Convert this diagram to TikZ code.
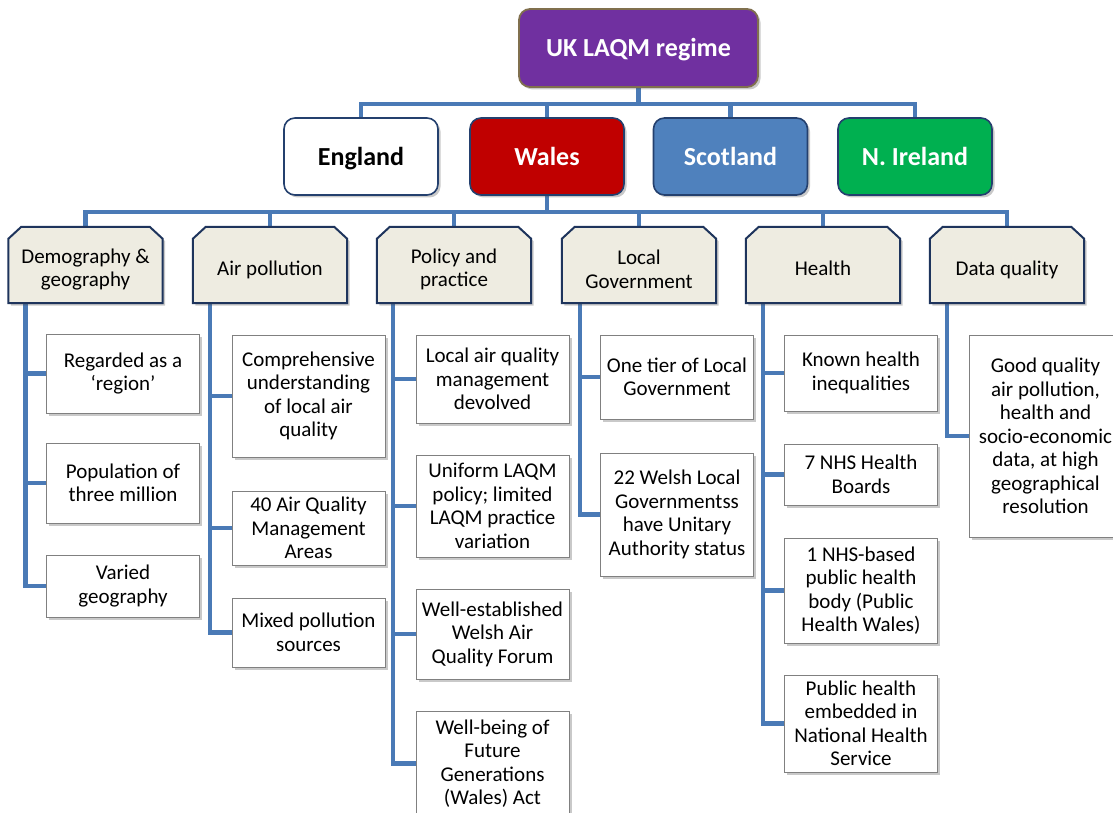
\documentclass[tikz,border=0pt]{standalone}
\usepackage{fontspec}
\setmainfont{Carlito}
\usetikzlibrary{shadows}
\definecolor{connblue}{RGB}{74,122,182}
\definecolor{topfill}{RGB}{112,48,160}
\definecolor{topedge}{RGB}{128,112,78}
\definecolor{boxedge}{RGB}{36,64,110}
\definecolor{walesred}{RGB}{192,0,0}
\definecolor{scotblue}{RGB}{79,129,189}
\definecolor{nigreen}{RGB}{0,176,80}
\definecolor{catfill}{RGB}{238,236,225}
\definecolor{catedge}{RGB}{30,52,92}
\definecolor{leafedge}{RGB}{128,128,128}
\pgfdeclarelayer{lines}
\pgfdeclarelayer{shapes}
\pgfsetlayers{lines,shapes,main}
\tikzset{
  softshadow/.style={drop shadow={opacity=0.3, shadow xshift=2.5pt, shadow yshift=-2.5pt, fill=black!70}},
  conn/.style={draw=connblue, line width=4.5pt, line join=miter},
  topbox/.style={rectangle, rounded corners=11pt, fill=topfill, draw=topedge, line width=1.8pt,
    minimum width=239pt, minimum height=78pt, text=white, inner sep=0pt,
    text height=20pt, text depth=2pt,
    font=\fontsize{26}{30}\selectfont\bfseries, softshadow},
  country/.style={rectangle, rounded corners=11pt, draw=boxedge, line width=1.6pt,
    minimum width=154pt, minimum height=77pt, inner sep=0pt,
    text height=20pt, text depth=2pt,
    font=\fontsize{26}{30}\selectfont\bfseries, softshadow},
  catnode/.style={rectangle, minimum width=154pt, minimum height=76pt, inner sep=0pt},
  cattext/.style={inner sep=0pt, align=center, yshift=-4.5pt, font=\fontsize{21}{23.5}\selectfont},
  catshape/.style={fill=catfill, draw=catedge, line width=2pt, softshadow},
  leaf/.style={rectangle, fill=white, draw=leafedge, line width=0.8pt, minimum width=153pt,
    inner sep=0pt, align=center, font=\fontsize{21}{23.5}\selectfont, softshadow}
}
\begin{document}
\begin{tikzpicture}[x=1pt,y=-1pt]
\useasboundingbox (0,0) rectangle (1113,813);

% root and the four nations
\node[topbox] (root) at (638.5,48) {UK LAQM regime};
\node[country, fill=white, text=black] (eng) at (361,156.5) {England};
\node[country, fill=walesred, text=white] (wal) at (547,156.5) {Wales};
\node[country, fill=scotblue, text=white] (sco) at (730.5,156.5) {Scotland};
\node[country, fill=nigreen, text=white] (nir) at (915,156.5) {N. Ireland};

% themes for Wales
\node[catnode, label={[cattext]center:Demography \&\\geography}] (cDem) at (85.5,265) {};
\node[catnode, label={[cattext]center:Air pollution}] (cAir) at (270,265) {};
\node[catnode, label={[cattext]center:Policy and\\practice}] (cPol) at (454,265) {};
\node[catnode, label={[cattext]center:Local\\Government}] (cGov) at (639,265) {};
\node[catnode, label={[cattext, yshift=1pt]center:Health}] (cHea) at (823,265) {};
\node[catnode, label={[cattext]center:Data quality}] (cDat) at (1007,265) {};

% Demography & geography
\node[leaf, minimum height=79pt] (d1) at (123,373.5) {Regarded as a\\‘region’};
\node[leaf, minimum height=80pt] (d2) at (123,483) {Population of\\three million};
\node[leaf, minimum height=62pt] (d3) at (123,586) {Varied\\geography};

% Air pollution
\node[leaf, minimum height=122pt] (a1) at (308.5,396) {Comprehensive\\understanding\\of local air\\quality};
\node[leaf, minimum height=74pt] (a2) at (308.5,528) {40 Air Quality\\Management\\Areas};
\node[leaf, minimum height=69pt] (a3) at (308.5,632.5) {Mixed pollution\\sources};

% Policy and practice
\node[leaf, minimum height=88pt] (p1) at (492.5,379) {Local air quality\\management\\devolved};
\node[leaf, minimum height=102pt] (p2) at (492.5,506) {Uniform LAQM\\policy; limited\\LAQM practice\\variation};
\node[leaf, minimum height=90pt] (p3) at (492.5,634) {Well-established\\Welsh Air\\Quality Forum};
\node[leaf, minimum height=105pt] (p4) at (492.5,763.5) {Well-being of\\Future\\Generations\\(Wales) Act};

% Local Government
\node[leaf, minimum height=84pt] (g1) at (677,377) {One tier of Local\\Government};
\node[leaf, minimum height=123pt] (g2) at (677,514.5) {22 Welsh Local\\Governmentss\\have Unitary\\Authority status};

% Health
\node[leaf, minimum height=76pt] (h1) at (861,373) {Known health\\inequalities};
\node[leaf, minimum height=61pt] (h2) at (861,474.5) {7 NHS Health\\Boards};
\node[leaf, minimum height=105pt] (h3) at (861,590.5) {1 NHS-based\\public health\\body (Public\\Health Wales)};
\node[leaf, minimum height=97pt] (h4) at (861,723.5) {Public health\\embedded in\\National Health\\Service};

% Data quality
\node[leaf, minimum height=202pt] (q1) at (1045.5,436) {Good quality\\air pollution,\\health and\\socio-economic\\data, at high\\geographical\\resolution};

% theme boxes with snipped top corners
\begin{pgfonlayer}{shapes}
\foreach \n in {cDem,cAir,cPol,cGov,cHea,cDat}
  \draw[catshape] (\n.south west) -- ([yshift=-12pt]\n.north west) -- ([xshift=13pt]\n.north west)
    -- ([xshift=-13pt]\n.north east) -- ([yshift=-12pt]\n.north east) -- (\n.south east) -- cycle;
\end{pgfonlayer}

% connectors
\begin{pgfonlayer}{lines}
\foreach \n in {eng,wal,sco,nir}
  \draw[conn] (root.south) -- ++(0,16) -| (\n.north);
\foreach \n in {cDem,cAir,cPol,cGov,cHea,cDat}
  \draw[conn] (wal.south) -- ++(0,16) -| (\n.north);
\foreach \n in {d1,d2,d3}
  \draw[conn] ([xshift=17pt]cDem.south west) |- (\n.west);
\foreach \n in {a1,a2,a3}
  \draw[conn] ([xshift=17pt]cAir.south west) |- (\n.west);
\foreach \n in {p1,p2,p3,p4}
  \draw[conn] ([xshift=16pt]cPol.south west) |- (\n.west);
\foreach \n in {g1,g2}
  \draw[conn] ([xshift=18pt]cGov.south west) |- (\n.west);
\foreach \n in {h1,h2,h3,h4}
  \draw[conn] ([xshift=17pt]cHea.south west) |- (\n.west);
\draw[conn] ([xshift=17pt]cDat.south west) |- (q1.west);
\end{pgfonlayer}
\end{tikzpicture}
\end{document}
